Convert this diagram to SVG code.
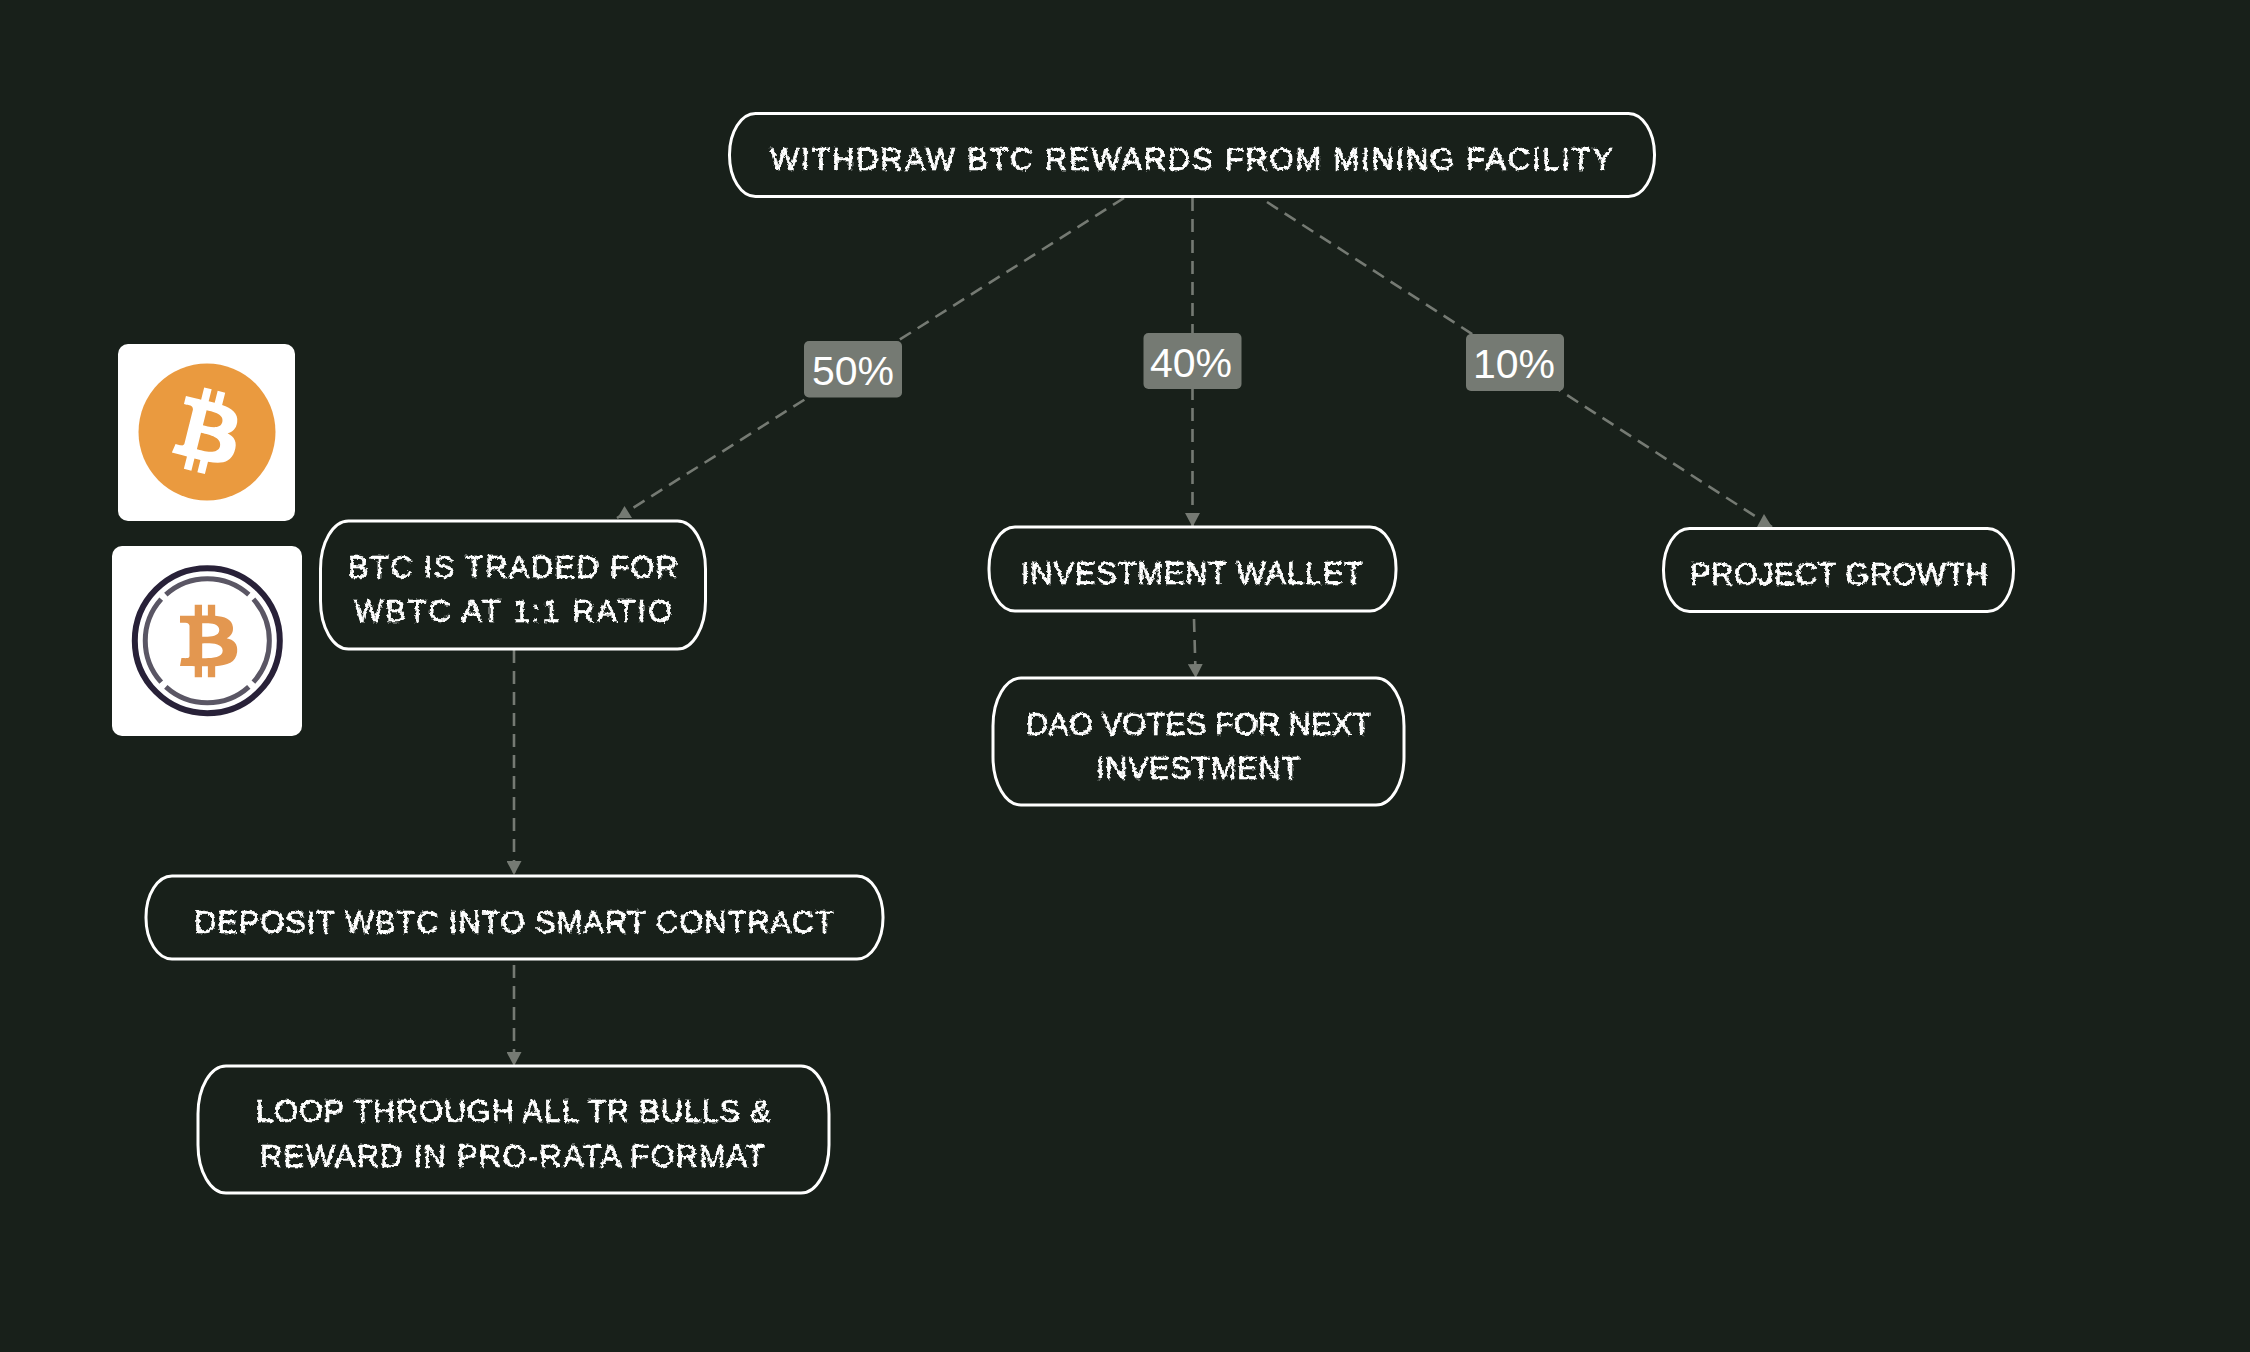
<svg xmlns="http://www.w3.org/2000/svg" width="2250" height="1352" viewBox="0 0 2250 1352">
<style>
.n{fill:#18201a;stroke:#fff;stroke-width:3}
.t{font-family:"Liberation Sans",sans-serif;font-size:31px;fill:#fff;stroke:#fff;stroke-width:.6;text-anchor:start;filter:url(#chalk)}
.e{fill:none;stroke:#757a73;stroke-width:2.6;stroke-dasharray:13 8}
.m{marker-end:url(#a)}
.h{fill:#757a73}
.lb{fill:#757a73}
.lt{font-family:"Liberation Sans",sans-serif;font-size:41px;fill:#fff;text-anchor:middle}
</style>
<defs>
<filter id="chalk" x="-5%" y="-20%" width="110%" height="140%"><feTurbulence type="fractalNoise" baseFrequency="0.3" numOctaves="2" seed="3"/><feDisplacementMap in="SourceGraphic" scale="4.5" xChannelSelector="R" yChannelSelector="G"/></filter>
<marker id="a" viewBox="0 0 14 15" refX="14" refY="7.500" markerWidth="14" markerHeight="15" markerUnits="userSpaceOnUse" orient="auto"><path d="M0 0L14 7.500L0 15z" fill="#757a73"/></marker>
<path id="b" d="M46.103 27.444c.637-4.258-2.605-6.547-7.038-8.074l1.438-5.768-3.511-.875-1.4 5.616c-.923-.23-1.871-.447-2.813-.662l1.41-5.653-3.509-.875-1.439 5.766c-.764-.174-1.514-.346-2.242-.527l.004-.018-4.842-1.209-.934 3.75s2.605.597 2.55.634c1.422.355 1.679 1.296 1.636 2.042l-1.638 6.571c.098.025.225.061.365.117l-.371-.092-2.296 9.205c-.174.432-.615 1.08-1.609.834.035.051-2.552-.637-2.552-.637l-1.743 4.019 4.569 1.139c.85.213 1.683.436 2.503.646l-1.453 5.834 3.507.875 1.439-5.772c.958.26 1.888.5 2.798.726l-1.434 5.745 3.511.875 1.453-5.823c5.987 1.133 10.489.676 12.384-4.739 1.527-4.36-.076-6.875-3.226-8.515 2.294-.529 4.022-2.038 4.483-5.155zM38.08 38.693c-1.085 4.36-8.426 2.003-10.806 1.412l1.928-7.729c2.38.594 10.012 1.77 8.878 6.317zm1.086-11.312c-.99 3.966-7.1 1.951-9.082 1.457l1.748-7.01c1.982.494 8.365 1.416 7.334 5.553z"/>
</defs>
<rect width="2250" height="1352" fill="#18201a"/>
<g id="connectors">
<path class="e" d="M1124 198L617 518"/>
<polygon class="h" points="617.500,518 632,518 624.500,506"/>
<path class="e m" d="M1192.500 198V527"/>
<path class="e" d="M1267 202L1772 527"/>
<polygon class="h" points="1757,527 1772,527 1764,514"/>
<path class="e m" d="M1194 619L1195.700 678"/>
<path class="e m" d="M514 650V875"/>
<path class="e m" d="M514 965V1066"/>
</g>
<g id="label-50"><rect class="lb" x="804" y="341" width="98" height="56.500" rx="5"/><text class="lt" x="853" y="385">50%</text></g>
<g id="label-40"><rect class="lb" x="1143.500" y="333" width="98" height="56" rx="5"/><text class="lt" x="1191" y="377">40%</text></g>
<g id="label-10"><rect class="lb" x="1466" y="334" width="98" height="57" rx="5"/><text class="lt" x="1514" y="378">10%</text></g>
<g id="node-withdraw"><rect class="n" x="729.500" y="113.500" width="925" height="83" rx="26" ry="41"/><text class="t" x="770" y="170" textLength="843" lengthAdjust="spacing">WITHDRAW BTC REWARDS FROM MINING FACILITY</text></g>
<g id="node-btc"><rect class="n" x="320.500" y="521" width="385" height="128" rx="28" ry="48"/><text class="t" x="348" y="578" textLength="330" lengthAdjust="spacing">BTC IS TRADED FOR</text><text class="t" x="354" y="622" textLength="318" lengthAdjust="spacing">WBTC AT 1:1 RATIO</text></g>
<g id="node-invest"><rect class="n" x="989" y="527" width="407" height="84" rx="26" ry="41"/><text class="t" x="1021" y="584" textLength="342" lengthAdjust="spacing">INVESTMENT WALLET</text></g>
<g id="node-dao"><rect class="n" x="993" y="678" width="411" height="127" rx="28" ry="48"/><text class="t" x="1026" y="735" textLength="345" lengthAdjust="spacing">DAO VOTES FOR NEXT</text><text class="t" x="1096" y="779" textLength="204" lengthAdjust="spacing">INVESTMENT</text></g>
<g id="node-project"><rect class="n" x="1663.500" y="528.500" width="350" height="83" rx="26" ry="41"/><text class="t" x="1690" y="585" textLength="298" lengthAdjust="spacing">PROJECT GROWTH</text></g>
<g id="node-deposit"><rect class="n" x="146" y="876" width="737" height="83" rx="26" ry="41"/><text class="t" x="194" y="933" textLength="640" lengthAdjust="spacing">DEPOSIT WBTC INTO SMART CONTRACT</text></g>
<g id="node-loop"><rect class="n" x="198" y="1066" width="631" height="127" rx="28" ry="48"/><text class="t" x="256" y="1122" textLength="515" lengthAdjust="spacing">LOOP THROUGH ALL TR BULLS &amp;</text><text class="t" x="260" y="1167" textLength="505" lengthAdjust="spacing">REWARD IN PRO-RATA FORMAT</text></g>
<g id="icon-btc"><rect x="118" y="344" width="177" height="177" rx="10" fill="#fff"/><circle cx="207" cy="432" r="68.500" fill="#ea9a3f"/><use href="#b" transform="translate(207 432) scale(2.14) translate(-32 -32)" fill="#fff"/></g>
<g id="icon-wbtc"><rect x="112" y="546" width="190" height="190" rx="10" fill="#fff"/><circle cx="207.300" cy="640.700" r="72.500" fill="none" stroke="#282138" stroke-width="6"/><g fill="none" stroke="#5a5664" stroke-width="5"><path d="M165.800 594.600A62 62 0 0 1 248.800 594.600"/><path d="M253.400 599.200A62 62 0 0 1 253.400 682.200"/><path d="M248.800 686.800A62 62 0 0 1 165.800 686.800"/><path d="M161.200 682.200A62 62 0 0 1 161.200 599.200"/></g><use href="#b" transform="translate(207.500 641.500) scale(2.02 1.85) rotate(-14) translate(-32 -32)" fill="#e39750"/></g>
</svg>
